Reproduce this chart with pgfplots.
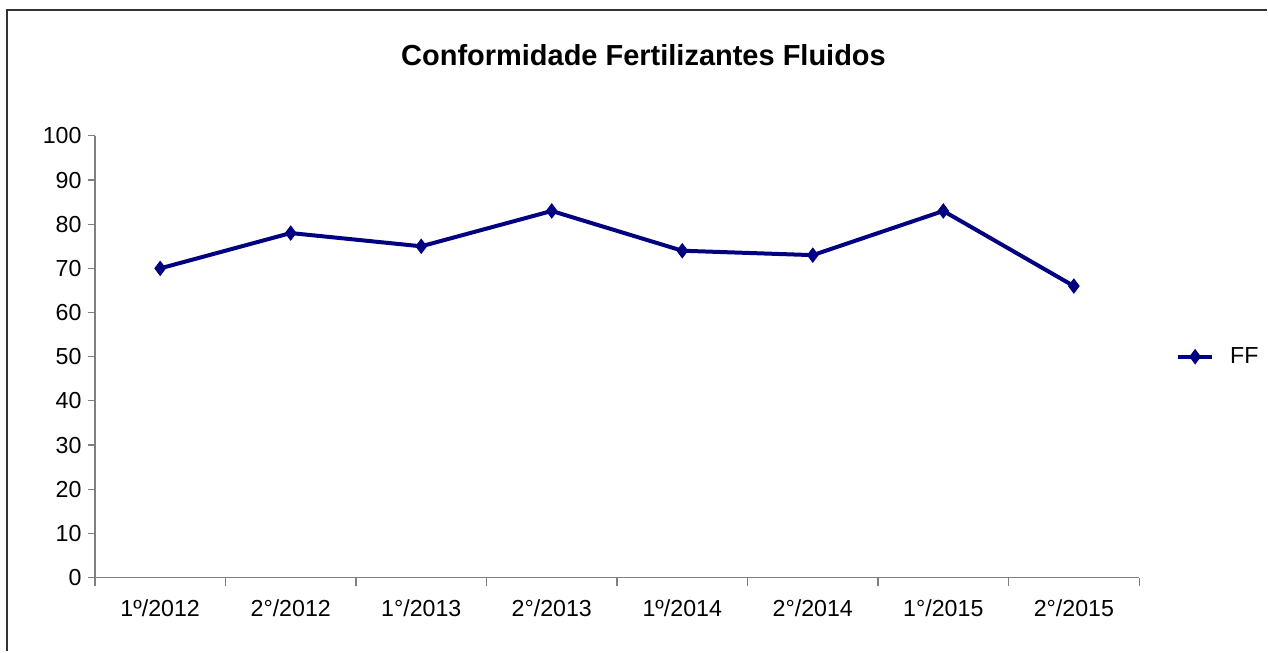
\documentclass[border=0pt]{standalone}
\usepackage{fontspec}
\setmainfont{Liberation Sans}
\usepackage{pgfplots}
\pgfplotsset{compat=1.18}
\definecolor{ffnavy}{RGB}{0,0,128}
\definecolor{axgray}{RGB}{128,128,128}
\begin{document}
\begin{tikzpicture}
\begin{axis}[
  at={(0,0)}, anchor=south west,
  scale only axis,
  width=522.5pt, height=221pt,
  xmin=-0.5, xmax=7.5,
  ymin=0, ymax=100,
  ytick={0,10,...,100},
  xtick={0,...,7},
  xticklabels={1º/2012,2°/2012,1°/2013,2°/2013,1º/2014,2°/2014,1°/2015,2°/2015},
  minor xtick={-0.5,0.5,...,7.5},
  axis x line*=bottom, axis y line*=left,
  axis line style={axgray, line width=0.6pt},
  x axis line style={-}, y axis line style={-},
  tick style={axgray, line width=0.6pt},
  tick align=outside,
  major tick length=3.5pt,
  minor tick length=4pt,
  major x tick style={draw=none},
  ticklabel style={font=\fontsize{11.6}{13}\selectfont, text=black},
  xticklabel style={yshift=-4pt},
  yticklabel style={xshift=0.3pt},
  /pgf/number format/assume math mode=true,
  legend style={at={(1.035,0.5)}, anchor=west, draw=none, fill=none,
    font=\fontsize{11.6}{13}\selectfont, inner sep=0pt},
  legend cell align=left,
  legend image code/.code={
    \draw[#1, mark repeat=2, mark phase=2] plot coordinates {(0cm,0cm) (0.3cm,0cm) (0.6cm,0cm)};
  },
  clip=false,
]
\addplot[color=ffnavy, line width=2pt, mark=diamond*, mark size=3.5pt,
  mark options={solid, line width=0.5pt, fill=ffnavy}]
  coordinates {(0,70) (1,78) (2,75) (3,83) (4,74) (5,73) (6,83) (7,66)};
\addlegendentry{\hspace*{6pt}FF}
\end{axis}
\node[font=\fontsize{14.5}{17}\selectfont\bfseries] at (274.5pt,261.5pt) {Conformidade Fertilizantes Fluidos};
\draw[line width=1pt, black!80] (-44pt,-37pt) -- (-44pt,284pt) -- (586.5pt,284pt);
\useasboundingbox (-47.5pt,-37pt) rectangle (586.5pt,289pt);
\end{tikzpicture}
\end{document}
